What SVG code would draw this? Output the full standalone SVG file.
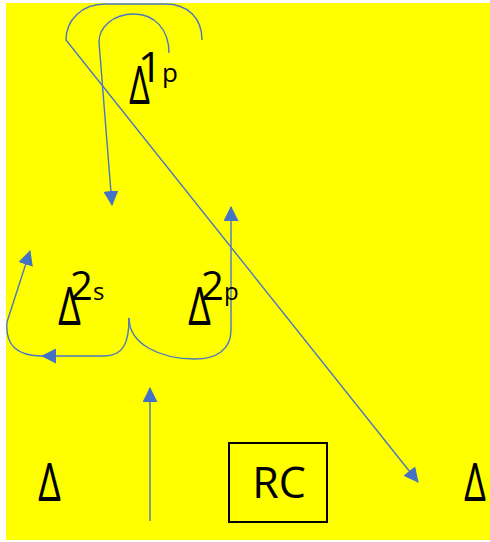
<svg xmlns="http://www.w3.org/2000/svg" width="490" height="542" viewBox="0 0 490 542">
  <style>
    .bg { fill: #ffff00; }
    .lbl { font-family: "Open Sans", "Liberation Sans", sans-serif; fill: #000; }
    .delta { font-size: 53px; }
    .num { font-size: 40px; }
    .sub { font-size: 24px; }
    .conn { fill: none; stroke: #4a78c0; stroke-width: 1.4; }
    .box { fill: none; stroke: #000; stroke-width: 2; }
  </style>
  <defs>
    <marker id="arrow" viewBox="0 0 15 15" markerWidth="15" markerHeight="15" refX="14" refY="7.5" orient="auto" markerUnits="userSpaceOnUse">
      <path d="M0,0 L15,7.5 L0,15 z" fill="#4472c4"/>
    </marker>
  </defs>
  <rect class="bg" x="6" y="3" width="484" height="537"/>

  <g id="connectors">
    <path class="conn" d="M202 40 C202 18 188 4 165 4 L105 4 C82 4 66 20 66 40 L418 482" marker-end="url(#arrow)"/>
    <path class="conn" d="M169 53 C169 30 155 14 134 14 C112 14 99 28 99 42 L112 205" marker-end="url(#arrow)"/>
    <path class="conn" d="M129 318 C129 342 124 356 104 356 L42 356" marker-end="url(#arrow)"/>
    <path class="conn" d="M42 356 C18 356 5 346 7 322 L30 251" marker-end="url(#arrow)"/>
    <path class="conn" d="M129 318 C129 344 160 359 195 359 C216 359 231 350 231 330 L231 207" marker-end="url(#arrow)"/>
    <path class="conn" d="M150 521 L150 388" marker-end="url(#arrow)"/>
  </g>

  <g id="node-1p">
    <text class="lbl delta" x="129" y="104" textLength="21" lengthAdjust="spacingAndGlyphs">Δ</text>
    <text class="lbl" x="138" y="82"><tspan font-size="42">1</tspan><tspan font-size="26">p</tspan></text>
  </g>
  <g id="node-2s">
    <text class="lbl delta" x="58" y="325" textLength="23" lengthAdjust="spacingAndGlyphs">Δ</text>
    <text class="lbl" x="70" y="300"><tspan class="num">2</tspan><tspan class="sub">s</tspan></text>
  </g>
  <g id="node-2p">
    <text class="lbl delta" x="188" y="325" textLength="23" lengthAdjust="spacingAndGlyphs">Δ</text>
    <text class="lbl" x="201" y="300"><tspan class="num">2</tspan><tspan class="sub">p</tspan></text>
  </g>
  <g id="node-left">
    <text class="lbl delta" x="38" y="501" textLength="23" lengthAdjust="spacingAndGlyphs">Δ</text>
  </g>
  <g id="node-right">
    <text class="lbl delta" x="464" y="501" textLength="22" lengthAdjust="spacingAndGlyphs">Δ</text>
  </g>
  <g id="node-RC">
    <rect class="box" x="229" y="443" width="98" height="79"/>
    <text class="lbl" x="279" y="498" font-size="43" text-anchor="middle">RC</text>
  </g>
</svg>
